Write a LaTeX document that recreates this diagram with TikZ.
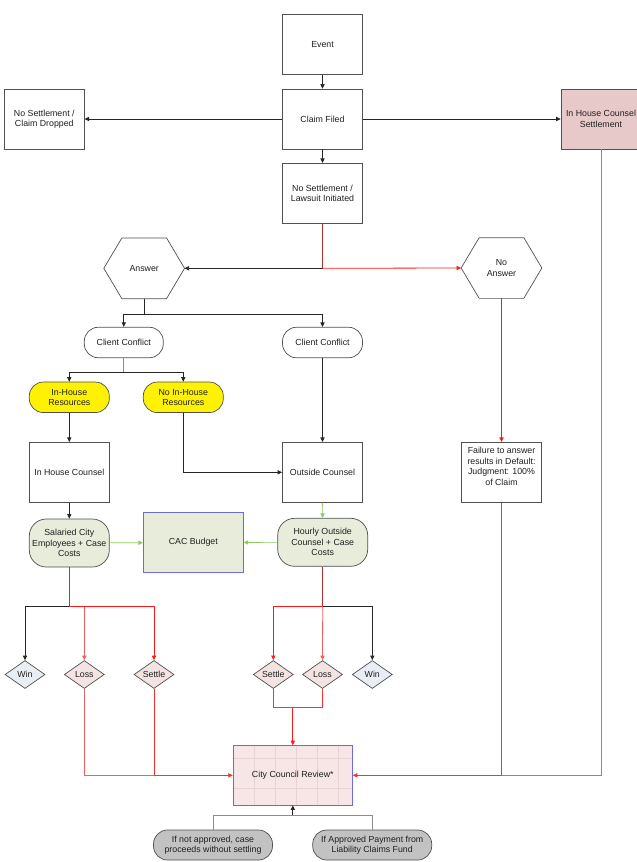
\documentclass[tikz,border=0pt]{standalone}
\usepackage{fontspec}
\setmainfont{Liberation Sans}
\usetikzlibrary{arrows.meta,shapes.geometric,calc}
\definecolor{bord}{HTML}{505050}
\definecolor{txt}{HTML}{202020}
\definecolor{ihsfill}{HTML}{E8C9C9}
\definecolor{greenfill}{HTML}{E7ECDB}
\definecolor{bluebord}{HTML}{6B6BE0}
\definecolor{pinkfill}{HTML}{F6E6E6}
\definecolor{winfill}{HTML}{E9EDF4}
\definecolor{lossfill}{HTML}{F4E3E3}
\definecolor{grayfill}{HTML}{C2C2C2}
\definecolor{redA}{HTML}{FF1A1A}
\definecolor{redB}{HTML}{F06060}
\definecolor{redC}{HTML}{B03030}
\definecolor{redD}{HTML}{FF3030}
\definecolor{greenA}{HTML}{8CCB5E}
\definecolor{gridc}{HTML}{E9D3D3}
\tikzset{
  base/.style={text=txt, align=center, inner sep=1pt, line width=0.7pt},
  boxnode/.style={base, draw=bord, minimum width=80pt, minimum height=60pt},
  hexnode/.style={base, minimum width=80pt, minimum height=60pt},
  pill/.style={base, draw=bord, rounded corners=14pt, minimum width=80pt, minimum height=30.5pt},
  yellowpill/.style={pill, fill=yellow},
  costnode/.style={base, draw=bord, fill=greenfill, rounded corners=17pt, minimum height=48pt},
  dia/.style={base, draw=bord, diamond, aspect=1.43, inner sep=0pt, minimum width=40pt, minimum height=28pt},
  winnode/.style={dia, fill=winfill},
  lossnode/.style={dia, fill=lossfill},
  graypill/.style={base, draw=bord, fill=grayfill, rounded corners=14pt, minimum width=119pt, minimum height=30pt},
  tip/.style={-{Triangle[length=4.5pt,width=4.2pt]}},
  blk/.style={line width=0.7pt, draw=black!85},
  blkarr/.style={blk, tip},
  grayln/.style={line width=0.7pt, draw=black!45},
  redln/.style={line width=0.8pt, draw=redA},
  redarr/.style={redln, tip},
  lredln/.style={line width=0.8pt, draw=redB},
  lredarr/.style={lredln, tip},
  dredln/.style={line width=0.8pt, draw=redC},
  grnarr/.style={line width=0.7pt, draw=greenA, tip},
}
\begin{document}
\begin{tikzpicture}[x=1pt,y=-1pt, font=\fontsize{8.8}{10.5}\selectfont]
\useasboundingbox (0,0) rectangle (637,862);
\fill[white] (0,0) rectangle (637,862);

% top boxes
\node[boxnode] (event) at (322.5,44.3) {Event};
\node[boxnode] (claim) at (322.5,119) {Claim Filed};
\node[boxnode] (drop) at (44.3,119) {No Settlement /\\Claim Dropped};
\node[boxnode, fill=ihsfill] (ihs) at (601,119) {In House Counsel\\Settlement};
\node[boxnode] (lawsuit) at (322.5,193.3) {No Settlement /\\Lawsuit Initiated};

% hexagons
\node[hexnode] (answer) at (144.2,268.3) {Answer};
\node[hexnode] (noans) at (501.5,268) {No\\Answer};
\foreach \h in {answer,noans}{
  \draw[draw=bord, line width=0.7pt] (\h.west) -- ([xshift=18pt]\h.north west) -- ([xshift=-18pt]\h.north east) -- (\h.east) -- ([xshift=-18pt]\h.south east) -- ([xshift=18pt]\h.south west) -- cycle;
}

% client conflicts
\node[pill, minimum width=79pt] (cc1) at (123.8,342.5) {Client Conflict};
\node[pill] (cc2) at (322.5,342.5) {Client Conflict};

% resources
\node[yellowpill] (ihr) at (69.3,397.3) {In-House\\Resources};
\node[yellowpill] (nihr) at (183.3,397.3) {No In-House\\Resources};

% counsel
\node[boxnode] (ihc) at (69.3,472.3) {In House Counsel};
\node[boxnode] (oc) at (322.5,472.3) {Outside Counsel};
\node[boxnode] (fail) at (501.5,472.3) {Failure to answer\\results in Default:\\Judgment: 100\%\\of Claim\\[1pt]\mbox{}};

% costs
\node[costnode, minimum width=80pt] (sal) at (69.3,543) {Salaried City\\Employees + Case\\Costs};
\node[costnode, minimum width=90pt] (hourly) at (322.7,542.3) {Hourly Outside\\Counsel + Case\\Costs};
\node[base, draw=bluebord, fill=greenfill, minimum width=100pt, minimum height=59.6pt] (cac) at (193.3,542.5) {CAC Budget};

% outcomes
\node[winnode] (win1) at (25,674.5) {Win};
\node[lossnode] (loss1) at (84.3,674.5) {Loss};
\node[lossnode] (settle1) at (154,674.5) {Settle};
\node[lossnode] (settle2) at (273.3,674.5) {Settle};
\node[lossnode] (loss2) at (322.5,674.5) {Loss};
\node[winnode] (win2) at (372.3,674.5) {Win};

% city council review
\node[base, fill=pinkfill, minimum width=119.3pt, minimum height=59.5pt] (ccr) at (292.8,775.3) {};
\begin{scope}
  \clip (ccr.south west) rectangle (ccr.north east);
  \foreach \gx in {254.5,275.5,296.5,317.5,338.5}{
    \draw[gridc, line width=0.4pt] (\gx,745) -- (\gx,806);
  }
  \foreach \gy in {758,788}{
    \draw[gridc, line width=0.4pt] (232,\gy) -- (353,\gy);
  }
\end{scope}
\node[base, draw=bluebord, minimum width=119.3pt, minimum height=59.5pt] at (ccr.center) {City Council Review*};

\node[graypill] (g1) at (213,845) {If not approved, case\\proceeds without settling};
\node[graypill] (g2) at (372.2,845) {If Approved Payment from\\Liability Claims Fund};

% junction coordinates
\coordinate (j1) at (322.5,268.3);
\coordinate (jA) at (144.2,314);
\coordinate (jB) at (123.8,372.3);
\coordinate (jL) at (69.3,606.7);
\coordinate (jR) at (322.7,606.7);
\coordinate (jS) at (292.8,707.7);
\coordinate (jC) at (154,775.3);
\coordinate (jD) at (501.5,775.3);
\coordinate (jE) at (292.8,815);

% connectors top
\draw[blkarr] (event) -- (claim);
\draw[blkarr] (claim) -- (drop);
\draw[blkarr] (claim) -- (ihs);
\draw[blkarr] (claim) -- (lawsuit);
\draw[dredln] (lawsuit.south) -- (j1);
\draw[blkarr] (j1) -- (answer.east);
\draw[redarr] (j1) -- (noans.west);

% answer branch
\draw[blk] (answer.south) -- (jA);
\draw[blkarr] (jA) -| (cc1.north);
\draw[blkarr] (jA) -| (cc2.north);
\draw[grayln] (cc1.south) -- (jB);
\draw[blkarr] (jB) -| (ihr.north);
\draw[blkarr] (jB) -| (nihr.north);
\draw[blkarr, line width=0.6pt] (cc2) -- (oc);
\draw[blkarr] (ihr) -- (ihc);
\draw[blkarr] (nihr.south) |- (oc.west);
\draw[blkarr] (ihc) -- (sal);
\draw[grnarr] (oc) -- (hourly);
\draw[grnarr] (sal) -- (cac);
\draw[grnarr] (hourly) -- (cac);
\draw[redarr] (noans.south) -- (fail.north);

% left outcomes
\draw[redln] (sal.south) -- (jL);
\draw[blkarr] (jL) -| (win1.north);
\draw[redarr] (jL) -| (settle1.north);
\draw[lredarr] (jL -| loss1.north) -- (loss1.north);

% right outcomes
\draw[dredln] (hourly.south) -- (jR);
\draw[redarr] (jR) -| (settle2.north);
\draw[blkarr] (jR) -| (win2.north);
\draw[lredarr] (jR) -- (loss2.north);

% to city council
\draw[lredln, draw=redD] (settle2.south) |- (jS);
\draw[lredln, draw=redD] (loss2.south) |- (jS);
\draw[redarr, line width=1pt] (jS) -- (ccr.north);
\draw[lredln] (loss1.south) |- (jC);
\draw[lredln, draw=redD] (settle1.south) -- (jC);
\draw[redarr, draw=redD] (jC) -- (ccr.west);
\draw[lredln] (ihs.south) |- (jD);
\draw[lredln, draw=redD] (fail.south) -- (jD);
\draw[redarr, draw=redD] (jD) -- (ccr.east);

% bottom
\draw[grayln] (g1.north) |- (jE);
\draw[grayln] (g2.north) |- (jE);
\draw[blkarr] (jE) -- (ccr.south);
\end{tikzpicture}
\end{document}
